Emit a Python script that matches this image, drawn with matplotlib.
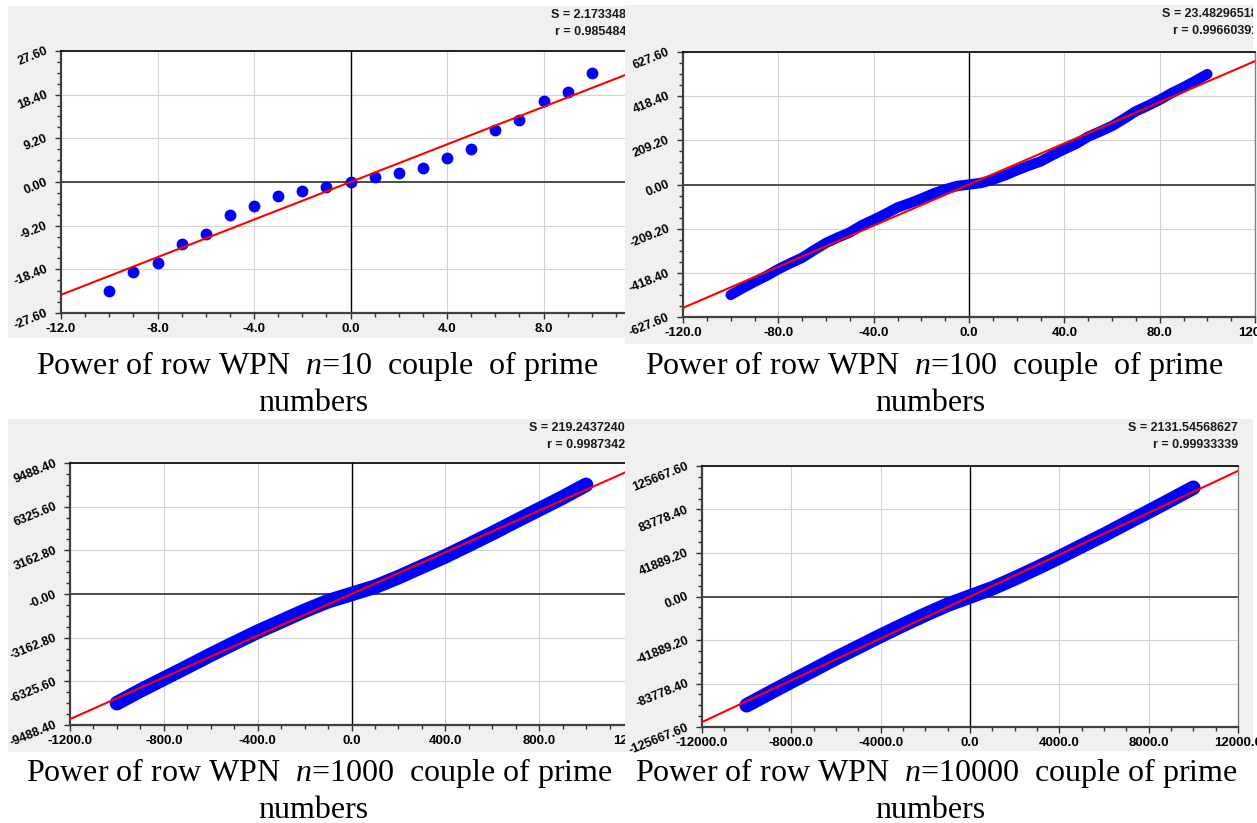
import numpy as np
import matplotlib
matplotlib.use("Agg")
import matplotlib.pyplot as plt
from matplotlib.ticker import AutoMinorLocator

plt.rcParams['mathtext.fontset'] = 'custom'
plt.rcParams['mathtext.rm'] = 'Liberation Serif'
plt.rcParams['mathtext.it'] = 'Liberation Serif:italic'

# --- data ---
n10_x = [-10, -9, -8, -7, -6, -5, -4, -3, -2, -1, 0, 1, 2, 3, 4, 5, 6, 7, 8, 9, 10]
n10_y = [-23, -19, -17, -13, -11, -7, -5, -3, -2, -1, 0, 1, 2, 3, 5, 7, 11, 13, 17, 19, 23]

n100_x = [-100, -95, -90, -85, -80, -75, -70, -65, -60, -55, -50, -45, -40, -35, -30,
          -25, -20, -15, -10, -5, 0, 5, 10, 15, 20, 25, 30, 35, 40, 45, 50, 55, 60,
          65, 70, 75, 80, 85, 90, 95, 100]
n100_y = [-523, -491, -461, -433, -401, -373, -347, -311, -277, -251, -227, -193, -167,
          -139, -109, -89, -67, -43, -23, -7, 0, 7, 23, 43, 67, 89, 109, 139, 167, 193,
          227, 251, 277, 311, 347, 373, 401, 433, 461, 491, 523]

n1000_x = [-1000, -900, -800, -700, -600, -500, -400, -300, -200, -100, 0,
           100, 200, 300, 400, 500, 600, 700, 800, 900, 1000]
n1000_y = [-7907, -6991, -6131, -5273, -4397, -3559, -2731, -1979, -1217, -523, 0,
           523, 1217, 1979, 2731, 3559, 4397, 5273, 6131, 6991, 7907]

n10000_x = [-10000, -9000, -8000, -7000, -6000, -5000, -4000, -3000, -2000, -1000, 0,
            1000, 2000, 3000, 4000, 5000, 6000, 7000, 8000, 9000, 10000]
n10000_y = [-104723, -93179, -81799, -70657, -59359, -48611, -37811, -27437, -17383, -7907, 0,
            7907, 17383, 27437, 37811, 48611, 59359, 70657, 81799, 93179, 104723]

fit_slopes = [1.98, 4.87, 7.55, 10.08]
x_max = [12.0, 120.0, 1200.0, 12000.0]
y_max = [27.6, 627.6, 9488.4, 125667.6]
zero_labels = ["0.00", "0.00", "-0.00", "0.00"]
s_texts = ["S = 2.17334815", "S = 23.48296518", "S = 219.24372401", "S = 2131.54568627"]
r_texts = ["r = 0.98548412", "r = 0.99660391", "r = 0.99873421", "r = 0.99933339"]
n_values = ["10", "100", "1000", "10000"]
caption_tail = ["couple  of prime", "couple  of prime", "couple of prime", "couple of prime"]

series_x = [n10_x, n100_x, n1000_x, n10000_x]
series_y = [n10_y, n100_y, n1000_y, n10000_y]

# --- layout in pixels (left, top, right, bottom) ---
W, H = 1257, 823
axes_px = [(61, 51, 640, 313), (683, 52, 1255, 317), (70, 463, 633, 725), (702, 466, 1238, 727)]
bg_px = [(8, 6, 650, 338), (625, 5, 1253, 344), (8, 419, 650, 752), (625, 419, 1253, 751)]
text_right = [640, 1258, 632, 1238]
caption_left = [36, 645, 26, 635]
caption_center = [313, 930, 313, 930]
caption_base = [374, 374, 781, 781]
band_width = [None, 7.5, 10.5, 10.5]


def rect(box):
    l, t, r, b = box
    return [l / W, 1 - b / H, (r - l) / W, (b - t) / H]


fig = plt.figure(figsize=(W / 100, H / 100), dpi=100)
fig.patch.set_facecolor('white')

for i in [0, 2, 1, 3]:
    # grey panel background with the S / r read-outs
    bg = fig.add_axes(rect(bg_px[i]))
    bg.set_facecolor('#f0f0f0')
    bg.set_xticks([])
    bg.set_yticks([])
    for sp in bg.spines.values():
        sp.set_visible(False)
    l, t, r, b = bg_px[i]
    tx = (text_right[i] - l) / (r - l)
    for k, s in enumerate([s_texts[i], r_texts[i]]):
        ty = 1 - (9 + 17 * k) / (b - t)
        bg.text(tx, ty, s, transform=bg.transAxes, ha='right', va='center',
                fontsize=9, fontweight='bold', family='Liberation Sans',
                color='#1a1a1a', clip_on=True)

    ax = fig.add_axes(rect(axes_px[i]))
    ax.set_facecolor('white')
    xm, ym = x_max[i], y_max[i]
    ax.set_xlim(-xm, xm)
    ax.set_ylim(-ym, ym)

    xt = np.linspace(-xm, xm, 7)
    yt = np.linspace(-ym, ym, 7)
    ylabels = [f"{v:.2f}" for v in yt]
    ylabels[3] = zero_labels[i]
    ax.set_xticks(xt, [f"{v:.1f}" for v in xt], fontsize=9.5, fontweight='bold',
                  family='Liberation Sans')
    ax.set_yticks(yt, ylabels, fontsize=9, fontweight='bold', family='Liberation Sans',
                  rotation=22, rotation_mode='anchor', ha='right', va='center')
    ax.xaxis.set_minor_locator(AutoMinorLocator(4))
    ax.yaxis.set_minor_locator(AutoMinorLocator(4))
    ax.tick_params(which='major', direction='out', length=4, width=1, color='#303030', pad=3)
    ax.tick_params(which='minor', direction='out', length=3, width=1, color='#303030')
    ax.tick_params(axis='y', pad=6)
    ax.grid(True, which='major', color='#d2d2d2', lw=0.8)
    ax.set_axisbelow(True)

    for side in ['left', 'bottom']:
        ax.spines[side].set_color('#404040')
        ax.spines[side].set_linewidth(1.6)
    ax.spines['top'].set_color('black')
    ax.spines['top'].set_linewidth(1.2)
    ax.spines['right'].set_color('#808080')
    ax.spines['right'].set_linewidth(1.0)

    ax.axhline(0, color='#404040', lw=1.3, zorder=1)
    ax.axvline(0, color='black', lw=1.0, zorder=1)

    if band_width[i] is None:
        ax.plot(series_x[i], series_y[i], 'o', color='#0000ff', ms=7.5, mec='#0000ff', zorder=2)
    else:
        ax.plot(series_x[i], series_y[i], '-', color='#0000ff', lw=band_width[i],
                solid_capstyle='round', solid_joinstyle='round', zorder=2)

    lim = np.array([-xm, xm])
    ax.plot(lim, fit_slopes[i] * lim, color='#ff0000', lw=1.5, zorder=3)

    # caption below each panel
    fig.text(caption_left[i] / W, 1 - caption_base[i] / H,
             f"Power of row WPN  $n$={n_values[i]}  {caption_tail[i]}",
             ha='left', va='baseline', fontsize=23, family='Liberation Serif')
    fig.text(caption_center[i] / W, 1 - (caption_base[i] + 37) / H, "numbers",
             ha='center', va='baseline', fontsize=23, family='Liberation Serif')

fig.savefig("out.png", dpi=100, facecolor='white')
